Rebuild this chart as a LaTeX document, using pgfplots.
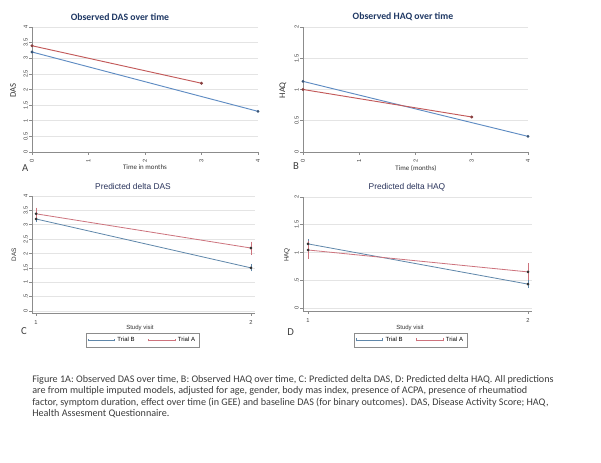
\documentclass[border=0pt]{standalone}
\usepackage{fontspec}
\setmainfont{Carlito}
\newfontfamily\arial{Liberation Sans}
\usepackage{pgfplots}
\pgfplotsset{compat=1.18}

\definecolor{xblue}{RGB}{95,140,195}
\definecolor{xred}{RGB}{195,90,90}
\definecolor{sblue}{RGB}{95,135,170}
\definecolor{sred}{RGB}{205,115,125}
\definecolor{ttl}{RGB}{31,56,100}
\definecolor{sttl}{RGB}{40,50,90}
\definecolor{grd}{RGB}{228,228,228}
\definecolor{axc}{RGB}{140,140,140}
\definecolor{capc}{RGB}{60,60,60}

\pgfplotsset{
  panel/.style={
    scale only axis, clip=false,
    axis x line*=bottom, axis y line*=left,
    axis line style={axc, line width=0.5pt},
    tick style={axc, line width=0.4pt},
    major tick length=2pt, tick align=outside,
    ymajorgrids, grid style={grd, line width=0.4pt},
    ticklabel style={font=\arial\fontsize{4.3}{5}\selectfont, text=black!75},
    yticklabel style={rotate=90, anchor=south, inner sep=1pt},
  },
  dot/.style={mark=*, mark size=0.7pt},
  errs/.style={error bars/.cd, y dir=both, y explicit,
    error bar style={line width=0.4pt},
    error mark options={line width=0.4pt, mark size=1.2pt}},
  leg/.style={
    legend columns=2,
    legend style={draw=axc, line width=0.4pt, inner sep=1pt,
      font=\arial\fontsize{4.5}{5}\selectfont,
      /tikz/every even column/.append style={column sep=8pt}},
    legend image code/.code={
      \draw[##1, line width=0.5pt] (0pt,0pt) -- (20pt,0pt);
      \draw[##1, line width=0.4pt] (0pt,-1.1pt) -- (0pt,1.1pt);
      \draw[##1, line width=0.4pt] (20pt,-1.1pt) -- (20pt,1.1pt);},
  },
}

\begin{document}
\begin{tikzpicture}
\useasboundingbox (0,0) rectangle (450.75pt,347.25pt);
\fill[white] (0,0) rectangle (450.75pt,347.25pt);

% Panel A
\begin{axis}[panel, at={(24pt,233.25pt)}, anchor=south west,
  width=169.5pt, height=93.75pt,
  xmin=0, xmax=4, ymin=0, ymax=4,
  xtick={0,1,2,3,4}, xticklabels={0,1,2,3,4},
  xticklabel style={rotate=90, anchor=east},
  ytick={0,0.5,1,1.5,2,2.5,3,3.5,4},
  yticklabels={0,0.5,1,1.5,2,2.5,3,3.5,4}]
\addplot[xblue, line width=0.7pt, dot, mark options={fill=xblue!60!black, draw=xblue!60!black}]
  coordinates {(0,3.2) (4,1.3)};
\addplot[xred, line width=0.7pt, dot, mark options={fill=xred!70!black, draw=xred!70!black}]
  coordinates {(0,3.4) (3,2.2)};
\end{axis}

% Panel B
\begin{axis}[panel, at={(227.25pt,233.25pt)}, anchor=south west,
  width=168.75pt, height=93.75pt,
  xmin=0, xmax=4, ymin=0, ymax=2,
  xtick={0,1,2,3,4}, xticklabels={0,1,2,3,4},
  xticklabel style={rotate=90, anchor=east},
  ytick={0,0.5,1,1.5,2},
  yticklabels={0,0.5,1,1.5,2}]
\addplot[xblue, line width=0.7pt, dot, mark options={fill=xblue!60!black, draw=xblue!60!black}]
  coordinates {(0,1.13) (4,0.25)};
\addplot[xred, line width=0.7pt, dot, mark options={fill=xred!70!black, draw=xred!70!black}]
  coordinates {(0,1.0) (3,0.56)};
\end{axis}

% Panel C
\begin{axis}[panel, leg, at={(24pt,112.5pt)}, anchor=south west,
  width=167.25pt, height=87.75pt,
  xmin=0.981, xmax=2.019, ymin=-0.07, ymax=4,
  xtick={1,2}, xticklabels={1,2},
  ytick={0,0.5,1,1.5,2,2.5,3,3.5,4},
  yticklabels={0,.5,1,1.5,2,2.5,3,3.5,4},
  legend style={at={(0.496,-0.231)}, anchor=center}]
\addplot[sblue, line width=0.6pt, dot, mark options={fill=black!80, draw=black!80}, errs]
  coordinates {(1,3.20) +- (0,0.05) (2,1.50) +- (0,0.07)};
\addlegendentry{Trial B}
\addplot[sred, line width=0.6pt, dot, mark options={fill=black!80, draw=black!80}, errs]
  coordinates {(1,3.38) +- (0,0.16) (2,2.19) +- (0,0.17)};
\addlegendentry{Trial A}
\end{axis}

% Panel D
\begin{axis}[panel, leg, at={(227.25pt,114pt)}, anchor=south west,
  width=171.75pt, height=85.5pt,
  xmin=0.977, xmax=2.018, ymin=-0.054, ymax=2,
  xtick={1,2}, xticklabels={1,2},
  ytick={0,0.5,1,1.5,2},
  yticklabels={0,.5,1,1.5,2},
  legend style={at={(0.47,-0.254)}, anchor=center}]
\addplot[sblue, line width=0.6pt, dot, mark options={fill=black!80, draw=black!80}, errs]
  coordinates {(1,1.155) +- (0,0.055) (2,0.43) +- (0,0.045)};
\addlegendentry{Trial B}
\addplot[sred, line width=0.6pt, dot, mark options={fill=black!80, draw=black!80}, errs]
  coordinates {(1,1.045) +- (0,0.125) (2,0.65) +- (0,0.125)};
\addlegendentry{Trial A}
\end{axis}

% titles and labels
\node[font=\bfseries\fontsize{7.3}{8}\selectfont, text=ttl] at (90pt,334.5pt) {Observed DAS over time};
\node[font=\bfseries\fontsize{7.3}{8}\selectfont, text=ttl] at (302.25pt,334.5pt) {Observed HAQ over time};
\node[font=\arial\fontsize{6.3}{7}\selectfont, text=sttl] at (99.75pt,207pt) {Predicted delta DAS};
\node[font=\arial\fontsize{6.3}{7}\selectfont, text=sttl] at (305.25pt,207pt) {Predicted delta HAQ};

\node[rotate=90, font=\fontsize{6.5}{7}\selectfont, text=black!80] at (9.75pt,279.5pt) {DAS};
\node[rotate=90, font=\fontsize{6.5}{7}\selectfont, text=black!80] at (212.25pt,279.5pt) {HAQ};
\node[rotate=90, font=\arial\fontsize{4.8}{5}\selectfont, text=black!80] at (10.5pt,156pt) {DAS};
\node[rotate=90, font=\arial\fontsize{4.8}{5}\selectfont, text=black!80] at (215.25pt,156pt) {HAQ};

\node[font=\fontsize{5.2}{6}\selectfont, text=black!80] at (108.75pt,222pt) {Time in months};
\node[font=\fontsize{5.2}{6}\selectfont, text=black!80] at (312pt,221.25pt) {Time (months)};
\node[font=\arial\fontsize{4.5}{5}\selectfont, text=black!80] at (105pt,101.25pt) {Study visit};
\node[font=\arial\fontsize{4.5}{5}\selectfont, text=black!80] at (307.5pt,101.25pt) {Study visit};

\node[font=\fontsize{8}{9}\selectfont, text=black!75] at (19pt,221.25pt) {A};
\node[font=\fontsize{8}{9}\selectfont, text=black!75] at (222pt,222.75pt) {B};
\node[font=\fontsize{8}{9}\selectfont, text=black!75] at (18pt,99pt) {C};
\node[font=\fontsize{8}{9}\selectfont, text=black!75] at (218pt,98.25pt) {D};

% caption
\begin{scope}[every node/.style={anchor=base west, inner sep=0pt, text=capc, font=\fontsize{7.6}{8}\selectfont}]
\node at (24pt,60.4pt) {Figure 1A: Observed DAS over time, B: Observed HAQ over time, C: Predicted delta DAS, D: Predicted delta HAQ. All predictions};
\node at (24pt,51.75pt) {are from multiple imputed models, adjusted for age, gender, body mas index, presence of ACPA, presence of rheumatiod};
\node at (24pt,43.1pt) {factor, symptom duration, effect over time (in GEE) and baseline DAS (for binary outcomes). DAS, Disease Activity Score; HAQ,};
\node at (24pt,34.5pt) {Health Assesment Questionnaire.};
\end{scope}
\end{tikzpicture}
\end{document}
